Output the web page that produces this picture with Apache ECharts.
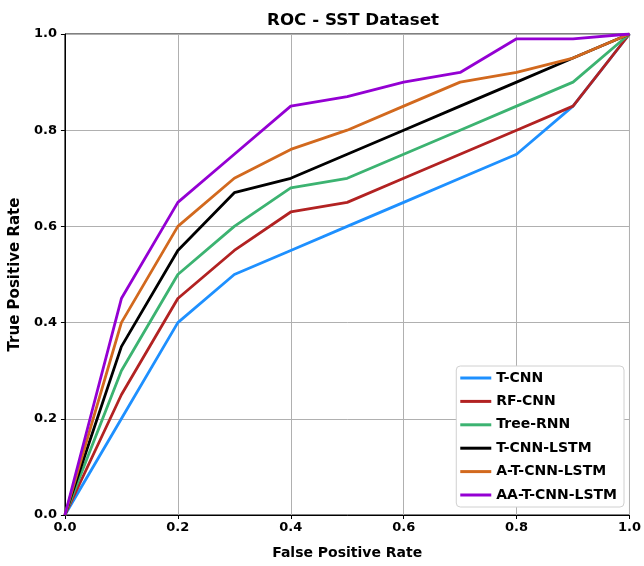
<!DOCTYPE html>
<html lang="en">
<head>
<meta charset="UTF-8">
<title>ROC - SST Dataset</title>
<script src="https://cdn.jsdelivr.net/npm/echarts@6/dist/echarts.min.js"></script>
<style>
  html, body { margin: 0; padding: 0; background: #fff; }
  #chart { width: 644px; height: 566px; }
</style>
</head>
<body>
<div id="chart"></div>
<script>
// false positive rate steps
var fpr = [0, 0.1, 0.2, 0.3, 0.4, 0.5, 0.6, 0.7, 0.8, 0.9, 1.0];

var tcnn      = [0, 0.20, 0.40, 0.50, 0.55, 0.60, 0.65, 0.70, 0.75, 0.85, 1.0];
var rfcnn     = [0, 0.25, 0.45, 0.55, 0.63, 0.65, 0.70, 0.75, 0.80, 0.85, 1.0];
var treernn   = [0, 0.30, 0.50, 0.60, 0.68, 0.70, 0.75, 0.80, 0.85, 0.90, 1.0];
var tcnnlstm  = [0, 0.35, 0.55, 0.67, 0.70, 0.75, 0.80, 0.85, 0.90, 0.95, 1.0];
var atcnnlstm = [0, 0.40, 0.60, 0.70, 0.76, 0.80, 0.85, 0.90, 0.92, 0.95, 1.0];
var aatcnnlstm= [0, 0.45, 0.65, 0.75, 0.85, 0.87, 0.90, 0.92, 0.99, 0.99, 1.0];

var names  = ['T-CNN', 'RF-CNN', 'Tree-RNN', 'T-CNN-LSTM', 'A-T-CNN-LSTM', 'AA-T-CNN-LSTM'];
var values = [tcnn, rfcnn, treernn, tcnnlstm, atcnnlstm, aatcnnlstm];
var colors = ['#1E90FF', '#B22222', '#3CB371', '#000000', '#D2691E', '#9400D3'];

function pairs(ys) {
    var out = [];
    for (var i = 0; i < fpr.length; i++) out.push([fpr[i], ys[i]]);
    return out;
}

var series = [];
for (var k = 0; k < names.length; k++) {
    series.push({
        name: names[k],
        type: 'line',
        data: pairs(values[k]),
        showSymbol: false,
        symbol: 'none',
        lineStyle: { color: colors[k], width: 2.8 },
        itemStyle: { color: colors[k] },
        z: 3 + k
    });
}

var chart = echarts.init(document.getElementById('chart'), null, { renderer: 'canvas' });

var tickFmt = function (v) { return v.toFixed(1); };
var font = 'DejaVu Sans';

chart.setOption({
    animation: false,
    title: {
        text: 'ROC - SST Dataset',
        left: 348, top: 7, textAlign: 'center',
        textStyle: { fontFamily: font, fontSize: 16.7, fontWeight: 'bold', color: '#000' }
    },
    grid: {
        left: 64, right: 12, top: 34, bottom: 51,
        show: true, borderColor: '#000', borderWidth: 1, backgroundColor: 'transparent'
    },
    legend: {
        orient: 'vertical',
        right: 20, bottom: 59,
        icon: 'rect', itemWidth: 31, itemHeight: 3,
        itemGap: 7.4, itemTextGap: 9,
        padding: [4, 7, 4, 4],
        backgroundColor: '#fff',
        borderColor: '#d0d0d0', borderWidth: 1, borderRadius: 4,
        textStyle: { fontFamily: font, fontSize: 14, fontWeight: 'bold', color: '#000', lineHeight: 16 },
        data: names
    },
    xAxis: {
        type: 'value', min: 0, max: 1, interval: 0.2,
        name: 'False Positive Rate', nameLocation: 'middle', nameGap: 31,
        nameTextStyle: { fontFamily: font, fontSize: 14, fontWeight: 'bold', color: '#000' },
        axisLine: { show: true, lineStyle: { color: '#000', width: 1 } },
        axisTick: { show: true, inside: false, length: 4, lineStyle: { color: '#000' } },
        axisLabel: { formatter: tickFmt, fontFamily: font, fontSize: 13, fontWeight: 'bold', color: '#000', margin: 6 },
        splitLine: { show: true, lineStyle: { color: '#b0b0b0', width: 1 } }
    },
    yAxis: {
        type: 'value', min: 0, max: 1, interval: 0.2,
        name: 'True Positive Rate', nameLocation: 'middle', nameGap: 41, nameRotate: 90,
        nameTextStyle: { fontFamily: font, fontSize: 15, fontWeight: 'bold', color: '#000' },
        axisLine: { show: true, lineStyle: { color: '#000', width: 1 } },
        axisTick: { show: true, inside: false, length: 4, lineStyle: { color: '#000' } },
        axisLabel: { formatter: tickFmt, fontFamily: font, fontSize: 13, fontWeight: 'bold', color: '#000', margin: 8 },
        splitLine: { show: true, lineStyle: { color: '#b0b0b0', width: 1 } }
    },
    series: series
});
</script>
</body>
</html>
